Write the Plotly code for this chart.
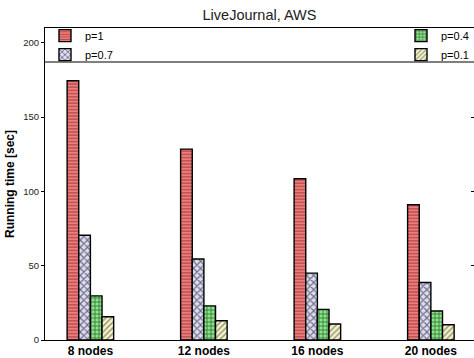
import plotly.graph_objects as go

# Cluster sizes and running times (seconds) for each sampling probability p
categories = ["8 nodes", "12 nodes", "16 nodes", "20 nodes"]
series_names = ["p=1", "p=0.7", "p=0.4", "p=0.1"]
time_p1 = [174.5, 128.5, 108.5, 91]
time_p07 = [70.5, 54.5, 45, 38.7]
time_p04 = [29.7, 23, 20.6, 19.5]
time_p01 = [15.6, 13, 10.8, 10.3]
y_ticks = [0, 50, 100, 150, 200]

values = [time_p1, time_p07, time_p04, time_p01]
fills = ["#f27a7a", "#dcdcf6", "#86e886", "#f4f2c6"]
pattern_fg = ["#6e2424", "#000000", "#000000", "#1a1a1a"]
pattern_shapes = ["-", "x", "+", "/"]
pattern_sizes = [3.2, 5, 4, 4]
pattern_solid = [0.4, 0.4, 0.4, 0.3]
legend_ids = ["legend", "legend", "legend2", "legend2"]

FONT = "Liberation Sans, Arial, Helvetica, sans-serif"

fig = go.Figure()
for name, vals, fc, fg, sh, sz, so, lg in zip(series_names, values, fills, pattern_fg,
                                               pattern_shapes, pattern_sizes, pattern_solid,
                                               legend_ids):
    fig.add_trace(go.Bar(
        x=list(range(len(categories))), y=vals, name=name, legend=lg,
        marker=dict(color=fc, line=dict(color="#000000", width=1.4),
                    pattern=dict(shape=sh, fgcolor=fg, bgcolor=fc, size=sz,
                                 solidity=so, fillmode="overlay")),
    ))

# Invisible trace carrying the inner tick marks on the right-hand side
fig.add_trace(go.Scatter(x=[None], y=[None], yaxis="y2", showlegend=False,
                         hoverinfo="skip"))

fig.update_layout(
    width=474, height=358,
    margin=dict(l=45, r=0, t=28, b=18),
    paper_bgcolor="white", plot_bgcolor="white",
    font=dict(family=FONT, size=11, color="#000000"),
    barmode="group", bargap=0.59, bargroupgap=0,
    title=dict(text="LiveJournal, AWS", x=0.5, xref="paper", y=0.958, yref="container",
               xanchor="center", yanchor="middle",
               font=dict(family=FONT, size=14.5, color="#222222")),
    xaxis=dict(
        range=[-0.4, 3.38], tickmode="array", tickvals=list(range(len(categories))),
        ticktext=["<b>%s</b>" % c for c in categories],
        tickfont=dict(family=FONT, size=12), ticks="", showgrid=False,
        showline=True, linecolor="#000000", linewidth=1, mirror=True, zeroline=False,
    ),
    yaxis=dict(
        range=[0, 210], tickmode="array", tickvals=y_ticks,
        tickfont=dict(family=FONT, size=9.5, color="#222222"), ticks="outside", ticklen=3,
        tickcolor="#000000", showgrid=False, showline=True, linecolor="#000000",
        linewidth=1, zeroline=False,
        title=dict(text="<b>Running time [sec]</b>", standoff=6,
                   font=dict(family=FONT, size=12)),
    ),
    yaxis2=dict(
        range=[0, 210], overlaying="y", side="right", tickmode="array",
        tickvals=[50, 100, 150], ticks="inside", ticklen=3, tickcolor="#000000",
        showticklabels=False, showgrid=False, showline=False, zeroline=False,
    ),
    legend=dict(x=0, xref="paper", y=1.022, yref="paper", xanchor="left", yanchor="top",
                bgcolor="rgba(0,0,0,0)", borderwidth=0, tracegroupgap=0,
                itemwidth=30, font=dict(family=FONT, size=11)),
    legend2=dict(x=1, xref="paper", y=1.022, yref="paper", xanchor="right", yanchor="top",
                 bgcolor="rgba(0,0,0,0)", borderwidth=0, tracegroupgap=0,
                 itemwidth=30, font=dict(family=FONT, size=11)),
    shapes=[dict(type="line", xref="paper", yref="paper", x0=0, x1=1,
                 y0=0.891, y1=0.891, line=dict(color="#000000", width=1))],
)

fig.write_html("out.html")
